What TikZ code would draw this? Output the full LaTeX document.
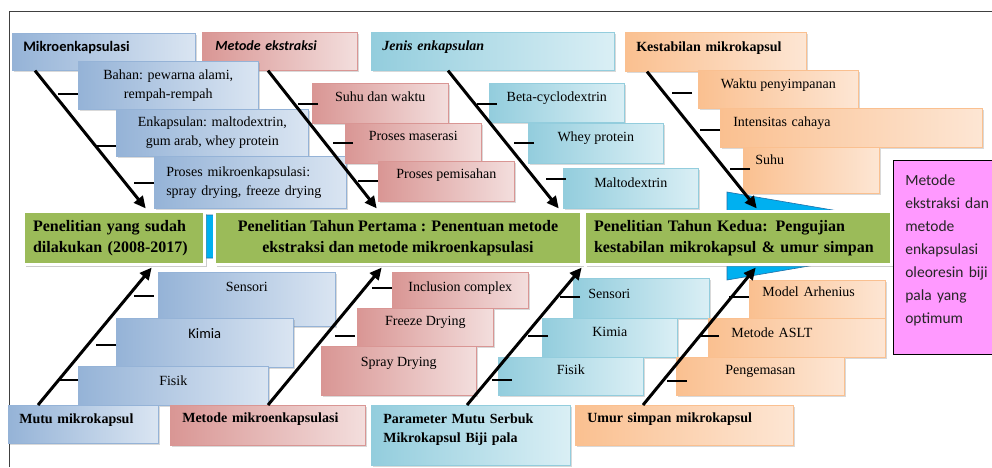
\documentclass[tikz,border=0pt]{standalone}
\usepackage{fontspec}
\setmainfont{Liberation Serif}
\newfontfamily\sansc{Carlito}
\usetikzlibrary{calc, positioning, shadows, arrows.meta}
\definecolor{bluD}{HTML}{95B3D7}
\definecolor{bluL}{HTML}{DAE5F2}
\definecolor{redD}{HTML}{D99694}
\definecolor{redL}{HTML}{F3DEDD}
\definecolor{cyaD}{HTML}{93CDDD}
\definecolor{cyaL}{HTML}{DAEFF5}
\definecolor{oraD}{HTML}{FAC090}
\definecolor{oraL}{HTML}{FDE6D4}
\definecolor{grn}{HTML}{9BBB59}
\definecolor{pnk}{HTML}{FF99FF}
\definecolor{spinec}{HTML}{00B0F0}
\definecolor{spined}{HTML}{1F6FA8}

\begin{document}
\begin{tikzpicture}[x=1pt, y=-1pt,
  bx/.style={draw=#1D, line width=.6pt, left color=#1D, right color=#1L,
    drop shadow={shadow xshift=2pt, shadow yshift=-2pt, opacity=.3},
    anchor=north west, inner sep=0pt, align=center,
    font=\fontsize{14}{19}\selectfont},
  cat/.style={bx=#1, font=\fontsize{14}{19}\selectfont\bfseries},
  sz/.style 2 args={minimum width=#1, minimum height=#2},
  tx/.style={text height=10pt, text depth=#1}, tx/.default=13.6pt,
  lft/.style={align=left, text width=#1},
  res/.style={anchor=north west, fill=grn, draw=white, line width=3pt,
    drop shadow={shadow xshift=2pt, shadow yshift=-2pt, opacity=.4},
    inner sep=0pt, align=center, font=\fontsize{16}{21}\selectfont\bfseries},
  spoke/.style={line width=3pt, -{Triangle[length=12pt,width=11pt]}},
  tick/.style={line width=2.5pt}]
\useasboundingbox (0,0) rectangle (992,467);
\draw[gray!50!black, line width=.8pt] (9,467) -- (9,11) -- (992,11);

% spine of the diagram
\filldraw[fill=spinec, draw=spined, line width=.6pt] (25,215) -- (727,215) -- (727,192)
  -- (985,236) -- (727,280) -- (727,258) -- (25,258) -- cycle;

% research stages
\node[res, sz={181}{53}, lft=162pt] (green1) at (22,210) {Penelitian yang sudah\\dilakukan (2008-2017)};
\node[res, sz={367}{53}] (green2) at (213,210) {Penelitian Tahun Pertama : Penentuan metode\\ekstraksi dan metode mikroenkapsulasi};
\node[res, sz={307}{53}, lft=288pt] (green3) at (583,210) {Penelitian Tahun Kedua: Pengujian\\kestabilan mikrokapsul \& umur simpan};
\node[draw=black, fill=pnk, line width=.6pt, anchor=north west, sz={114}{194}, inner sep=0pt,
  align=left, text width=90pt, text depth=154pt, text=black!85,
  font=\sansc\fontsize{15.5}{23}\selectfont] (goal) at (893,160)
  {Metode\\ekstraksi dan\\metode\\enkapsulasi\\oleoresin biji\\pala yang\\optimum};

% top causes
\node[cat=blu, sz={183}{37}, lft=161pt, tx=11.6pt, font=\sansc\fontsize{14.5}{19}\selectfont\bfseries] (mikro) at (12,33) {Mikroenkapsulasi};
\node[cat=red, sz={155}{38}, lft=129pt, tx=11.6pt, font=\sansc\fontsize{14}{19}\selectfont\bfseries\itshape] (metek) at (202,32) {Metode ekstraksi};
\node[cat=cya, sz={243}{38}, lft=221pt, tx=11.6pt, font=\fontsize{14}{19}\selectfont\bfseries\itshape] (jenis) at (371,32) {Jenis enkapsulan};
\node[cat=ora, sz={181}{39}, lft=159pt, tx=11.6pt] (kest) at (625,32) {Kestabilan mikrokapsul};

\node[bx=blu, sz={180}{48}] (bahan) at (78,61) {Bahan: pewarna alami,\\rempah-rempah};
\node[bx=blu, sz={192}{47}] (enkap) at (116,109) {Enkapsulan: maltodextrin,\\gum arab, whey protein};
\node[bx=blu, sz={192}{52}, lft=168pt] (proses) at (154,156) {Proses mikroenkapsulasi:\\spray drying, freeze drying};

\node[bx=red, sz={136}{40}, tx] (suhuw) at (312,83) {Suhu dan waktu};
\node[bx=red, sz={136}{40}, tx=15.6pt] (maser) at (345,123) {Proses maserasi};
\node[bx=red, sz={136}{40}, tx=15.6pt] (pemis) at (378,161) {Proses pemisahan};

\node[bx=cya, sz={135}{39}, tx=12.6pt] (beta) at (489,83) {Beta-cyclodextrin};
\node[bx=cya, sz={135}{40}, tx] (whey) at (528,123) {Whey protein};
\node[bx=cya, sz={135}{40}, tx=11.6pt] (malto) at (563,168) {Maltodextrin};

\node[bx=ora, sz={160}{38}, tx=11.6pt] (waktu) at (698,70) {Waktu penyimpanan};
\node[bx=ora, sz={262}{39}, lft=236pt, tx=12.6pt] (inten) at (720,108) {Intensitas cahaya};
\node[bx=ora, sz={136}{46}, lft=112pt, tx=21.6pt] (suhu) at (743,147) {Suhu};

% bottom causes
\node[bx=blu, sz={177}{54}, tx=25.6pt] (bsens) at (158,272) {Sensori};
\node[bx=blu, sz={177}{49}, tx=18.6pt, font=\sansc\fontsize{14.5}{19}\selectfont] (bkim) at (116,318) {Kimia};
\node[bx=blu, sz={190}{39}, tx=11.6pt] (bfis) at (78,366) {Fisik};

\node[bx=red, sz={136}{36}, tx=7.6pt] (incl) at (392,272) {Inclusion complex};
\node[bx=red, sz={136}{38}, tx] (freeze) at (357,308) {Freeze Drying};
\node[bx=red, sz={155}{49}, tx=19.6pt] (spray) at (321,346) {Spray Drying};

\node[bx=cya, sz={136}{40}, lft=106pt, tx=9.6pt] (csens) at (573,278) {Sensori};
\node[bx=cya, sz={135}{39}, tx] (ckim) at (542,318) {Kimia};
\node[bx=cya, sz={145}{38}, tx] (cfis) at (498,357) {Fisik};

\node[bx=ora, sz={136}{38}, lft=110pt, tx=15.6pt] (arh) at (749,280) {Model Arhenius};
\node[bx=ora, sz={177}{39}, lft=131pt, tx=11.6pt] (aslt) at (708,318) {Metode ASLT};
\node[bx=ora, sz={168}{38}, tx] (peng) at (676,357) {Pengemasan};

\node[cat=blu, sz={150}{38}, lft=128pt, tx=11.6pt] (mutu) at (8,405) {Mutu mikrokapsul};
\node[cat=red, sz={195}{40}, lft=171pt, tx=15.6pt] (mmk) at (170,405) {Metode mikroenkapsulasi};
\node[cat=cya, sz={199}{60}, lft=175pt, text depth=33.6pt] (param) at (371,405) {Parameter Mutu Serbuk\\Mikrokapsul Biji pala};
\node[cat=ora, sz={218}{40}, lft=194pt, tx=15.6pt] (umur) at (575,405) {Umur simpan mikrokapsul};

% spokes into the stages
\foreach \a/\da/\b/\db in {mikro/23/green1/125, metek/66/green2/165, jenis/77/green2/347, kest/22/green3/175}
  \draw[spoke, shorten >=2pt] ($(\a.south west)+(\da,0)$) -- ($(\b.north west)+(\db,0)$);
\foreach \a/\da/\b/\db in {mutu/30/green1/131, mmk/98/green2/170, param/96/green3/0, umur/68/green3/174}
  \draw[spoke, shorten >=2pt] ($(\a.north west)+(\da,0)$) -- ($(\b.south west)+(\db,0)$);

% ticks
\foreach \n/\y/\d in {bahan/94/0, enkap/146/0, proses/183/0, suhuw/104/6, maser/143/8, pemis/181/0,
    beta/104/8, whey/143/6, malto/179/3, waktu/93/-6, inten/130/0, suhu/169/7,
    bsens/296/-4, bkim/345/0, bfis/380/0, incl/288/0, freeze/336/-2,
    csens/297/7, ckim/336/6, cfis/380/14, arh/297/0, aslt/336/11, peng/381/11}
  \draw[tick] (\n.west |- 0,\y) ++(\d,0) -- ++(-20,0);
\end{tikzpicture}
\end{document}
